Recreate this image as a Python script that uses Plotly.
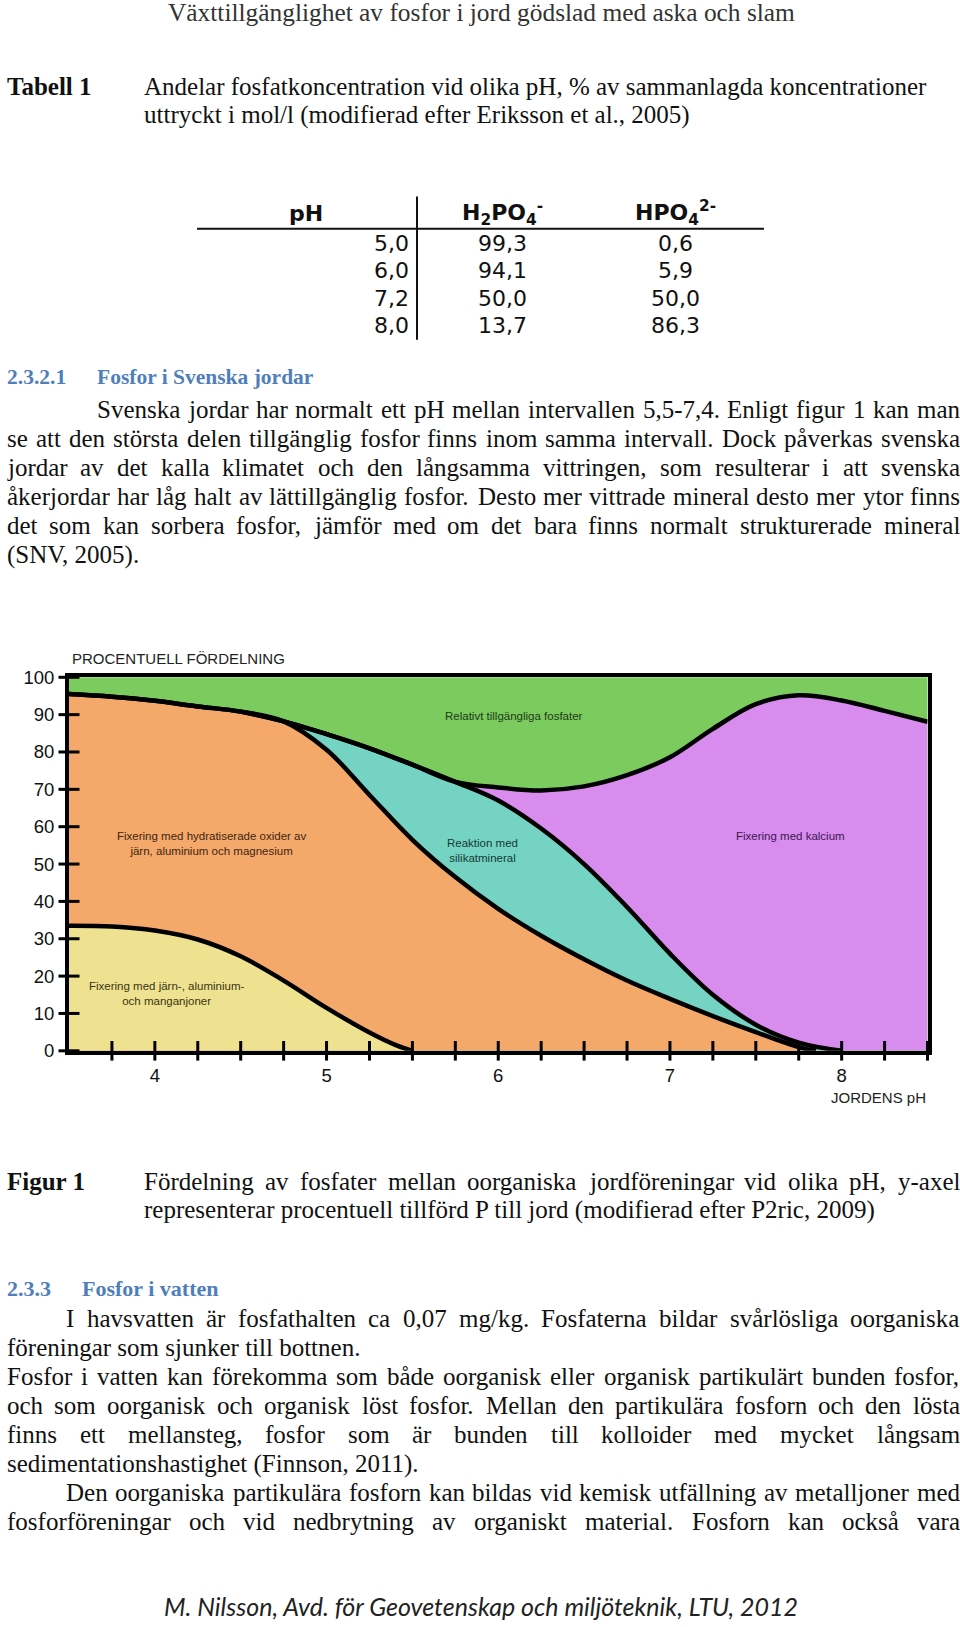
import plotly.graph_objects as go
import numpy as np

W, H = 960, 1627

# ------------------------------------------------------------------ text content
header_text = "Växttillgänglighet av fosfor i jord gödslad med aska och slam"

table_label = "Tabell 1"
table_caption = [
    "Andelar fosfatkoncentration vid olika pH, % av sammanlagda koncentrationer",
    "uttryckt i mol/l (modifierad efter Eriksson et al., 2005)",
]
table_headers = ["pH", "H<sub>2</sub>PO<sub>4</sub><sup>-</sup>", "HPO<sub>4</sub><sup>2-</sup>"]
table_ph = [5.0, 6.0, 7.2, 8.0]
table_h2po4 = [99.3, 94.1, 50.0, 13.7]
table_hpo4 = [0.6, 5.9, 50.0, 86.3]

section1_number = "2.3.2.1"
section1_title = "Fosfor i Svenska jordar"
para1_lines = [
    "Svenska jordar har normalt ett pH mellan intervallen 5,5-7,4. Enligt figur 1 kan man",
    "se att den största delen tillgänglig fosfor finns inom samma intervall. Dock påverkas svenska",
    "jordar av det kalla klimatet och den långsamma vittringen, som resulterar i att svenska",
    "åkerjordar har låg halt av lättillgänglig fosfor. Desto mer vittrade mineral desto mer ytor finns",
    "det som kan sorbera fosfor, jämför med om det bara finns normalt strukturerade mineral",
    "(SNV, 2005).",
]

chart_title = "PROCENTUELL FÖRDELNING"
x_title = "JORDENS pH"
x_ticks = [4, 5, 6, 7, 8]
y_ticks = [0, 10, 20, 30, 40, 50, 60, 70, 80, 90, 100]

# boundaries between the coloured zones (pH, cumulative %)
ph_yellow = [3.5, 3.75, 4.0, 4.25, 4.5, 4.75, 5.0, 5.25, 5.4, 5.5]
pct_yellow = [33.5, 33.3, 32.2, 29.8, 25.3, 18.8, 11.5, 4.9, 1.6, 0.0]

ph_orange = [3.5, 3.75, 4.0, 4.25, 4.5, 4.75, 5.0, 5.25, 5.5, 5.75, 6.0, 6.25,
             6.5, 6.75, 7.0, 7.25, 7.5, 7.75, 7.85]
pct_orange = [95.5, 94.8, 93.7, 92.2, 90.8, 88.2, 80.6, 68.5, 56.5, 46.5, 38.0, 30.8,
              24.5, 18.8, 13.9, 9.3, 5.0, 1.0, 0.0]

ph_teal = [4.5, 4.75, 5.0, 5.25, 5.5, 5.75, 6.0, 6.25, 6.5, 6.75, 7.0, 7.25, 7.5, 7.75, 8.0]
pct_teal = [90.8, 88.2, 84.8, 81.0, 76.6, 72.0, 67.0, 59.5, 50.0, 38.5, 26.0, 15.0, 7.0, 2.2, 0.0]

ph_green = [3.5, 3.75, 4.0, 4.25, 4.5, 4.75, 5.0, 5.25, 5.5, 5.75, 6.0, 6.25, 6.5,
            6.75, 7.0, 7.25, 7.5, 7.75, 8.0, 8.25, 8.5]
pct_green = [95.5, 94.8, 93.7, 92.2, 90.8, 88.2, 84.8, 81.0, 76.6, 72.0, 70.5, 69.7, 70.8,
             73.8, 78.6, 86.2, 92.8, 95.2, 93.8, 91.0, 88.1]

zone_labels = [
    "Relativt tillgängliga fosfater",
    "Fixering med hydratiserade oxider av<br>järn, aluminium och magnesium",
    "Reaktion med<br>silikatmineral",
    "Fixering med kalcium",
    "Fixering med järn-, aluminium-<br>och manganjoner",
]

figure_label = "Figur 1"
figure_caption = [
    "Fördelning av fosfater mellan oorganiska jordföreningar vid olika pH, y-axel",
    "representerar procentuell tillförd P till jord (modifierad efter P2ric, 2009)",
]

section2_number = "2.3.3"
section2_title = "Fosfor i vatten"
para2_lines = [
    "I havsvatten är fosfathalten ca 0,07 mg/kg. Fosfaterna bildar svårlösliga oorganiska",
    "föreningar som sjunker till bottnen.",
    "Fosfor i vatten kan förekomma som både oorganisk eller organisk partikulärt bunden fosfor,",
    "och som oorganisk och organisk löst fosfor. Mellan den partikulära fosforn och den lösta",
    "finns ett mellansteg, fosfor som är bunden till kolloider med mycket långsam",
    "sedimentationshastighet (Finnson, 2011).",
    "Den oorganiska partikulära fosforn kan bildas vid kemisk utfällning av metalljoner med",
    "fosforföreningar och vid nedbrytning av organiskt material. Fosforn kan också vara",
]

footer_text = "M. Nilsson, Avd. för Geovetenskap och miljöteknik, LTU, 2012"

# ------------------------------------------------------------------ styles
GREEN = "#7bcb5f"
PURPLE = "#d88cee"
TEAL = "#75d3c3"
ORANGE = "#f4a869"
YELLOW = "#eee291"
BLUE = "#4f7fba"
SERIF = "Liberation Serif"
SANS = "Liberation Sans"
BS = 25  # body font size
LINE = 29.4  # body line pitch

# Times-compatible advance widths (1/1000 em) for justification
TIMES = {' ': 250, '!': 333, '(': 333, ')': 333, ',': 250, '-': 333, '.': 250, '/': 278,
         ':': 278, ';': 278, '%': 833, '?': 444}
for d in "0123456789":
    TIMES[d] = 500
TIMES.update(dict(zip("ABCDEFGHIJKLMNOPQRSTUVWXYZ",
                      [722, 667, 667, 722, 611, 556, 722, 722, 333, 389, 722, 611, 889,
                       722, 722, 556, 722, 667, 556, 611, 722, 722, 944, 722, 722, 611])))
TIMES.update(dict(zip("abcdefghijklmnopqrstuvwxyz",
                      [444, 500, 444, 500, 444, 333, 500, 500, 278, 278, 500, 278, 778,
                       500, 500, 500, 500, 333, 389, 278, 500, 500, 722, 500, 500, 444])))
TIMES.update({'å': 444, 'ä': 444, 'ö': 500, 'é': 444, 'Å': 722, 'Ä': 722, 'Ö': 722})


def tw(s, size):
    return sum(TIMES.get(c, 500) for c in s) * size / 1000.0


def px(x):
    return x / W


def py(y):
    return 1 - y / H


annotations = []
shapes = []


def add_text(text, x, y, size, family=SERIF, color="#111111", xanchor="left", align="left"):
    annotations.append(dict(text=text, x=px(x), y=py(y), xref="paper", yref="paper",
                            xanchor=xanchor, yanchor="middle", align=align, showarrow=False,
                            font=dict(size=size, family=family, color=color)))


def add_line(text, x0, y, size, x1=None, color="#111111"):
    words = text.split(" ")
    if x1 is None or len(words) < 2:
        add_text(text, x0, y, size, color=color)
        return
    widths = [tw(w, size) for w in words]
    gap = (x1 - x0 - sum(widths)) / (len(words) - 1)
    x = x0
    for w, wd in zip(words, widths):
        add_text(w, x, y, size, color=color)
        x += wd + gap


LEFT, RIGHT = 5, 958

# header
add_text(header_text, 481, 1.5, 25.4, color="#333333", xanchor="center")

# table caption
add_text("<b>" + table_label + "</b>", LEFT, 76.5, BS)
add_line(table_caption[0], 142, 76.5, BS)
add_line(table_caption[1], 142, 105, BS)

# table
TFONT = "DejaVu Sans"
TS = 22
col_x = [306, 502, 675]
for hdr, cx in zip(table_headers, col_x):
    add_text("<b>" + hdr + "</b>", cx, 205, TS, family=TFONT, xanchor="center")
row_y = [235.6, 263.0, 291.4, 318.7]


def fmt(v):
    return f"{v:.1f}".replace(".", ",")


for i in range(len(table_ph)):
    add_text(fmt(table_ph[i]), 411, row_y[i], TS, family=TFONT, xanchor="right")
    add_text(fmt(table_h2po4[i]), col_x[1], row_y[i], TS, family=TFONT, xanchor="center")
    add_text(fmt(table_hpo4[i]), col_x[2], row_y[i], TS, family=TFONT, xanchor="center")

shapes.append(dict(type="line", xref="paper", yref="paper", x0=px(197), x1=px(764),
                   y0=py(220.5), y1=py(220.5), line=dict(color="#111111", width=2)))
shapes.append(dict(type="line", xref="paper", yref="paper", x0=px(417), x1=px(417),
                   y0=py(188), y1=py(333), line=dict(color="#111111", width=2)))

# section 2.3.2.1
add_text("<b>" + section1_number + "</b>", LEFT, 370.4, 21.5, color=BLUE)
add_text("<b>" + section1_title + "</b>", 95, 370.4, 21.5, color=BLUE)

p1_y0 = 403.8
for i, line in enumerate(para1_lines):
    x0 = 95 if i == 0 else LEFT
    x1 = RIGHT if i < len(para1_lines) - 1 else None
    add_line(line, x0, p1_y0 + LINE * i, BS, x1)

# chart texts
add_text(chart_title, 70, 656, 15, family=SANS, color="#222222")
add_text(x_title, 928, 1100.7, 15, family=SANS, color="#222222", xanchor="right")
zone_pos = [(514, 713.8, "#1f3a16"), (211, 843.5, "#3d2614"), (482, 850.6, "#173a34"),
            (790, 835.3, "#3b1850"), (166, 995.4, "#3a3512")]
for lab, (x, y, c) in zip(zone_labels, zone_pos):
    add_text(lab, x, y, 11.5, family=SANS, color=c, xanchor="center", align="center")

# figure caption
add_text("<b>" + figure_label + "</b>", LEFT, 1185.8, BS)
add_line(figure_caption[0], 142, 1185.8, BS, RIGHT)
add_line(figure_caption[1], 142, 1214.2, BS)

# section 2.3.3
add_text("<b>" + section2_number + "</b>", LEFT, 1294.5, 22, color=BLUE)
add_text("<b>" + section2_title + "</b>", 80, 1294.5, 22, color=BLUE)

p2_y0 = 1324.8
p2_last = {1, 5}
for i, line in enumerate(para2_lines):
    x0 = 64 if i in (0, 6) else LEFT
    x1 = None if i in p2_last else RIGHT
    add_line(line, x0, p2_y0 + LINE * i, BS, x1)

# footer
add_text("<i>" + footer_text + "</i>", 481, 1616, 25, family="Lato", color="#222222",
         xanchor="center")

# ------------------------------------------------------------------ chart
fig = go.Figure()

fills = [(ph_green, pct_green, PURPLE), (ph_teal, pct_teal, TEAL),
         (ph_orange, pct_orange, ORANGE), (ph_yellow, pct_yellow, YELLOW)]
for xs, ys, col in fills:
    fig.add_trace(go.Scatter(x=xs, y=ys, mode="lines", fill="tozeroy", fillcolor=col,
                             line=dict(width=0, shape="spline", smoothing=1.0),
                             hoverinfo="skip", showlegend=False))
for xs, ys, col in fills:
    fig.add_trace(go.Scatter(x=xs, y=ys, mode="lines",
                             line=dict(width=4.5, color="black", shape="spline", smoothing=1.0),
                             hoverinfo="skip", showlegend=False))

minor_x = list(np.arange(3.75, 8.51, 0.25))
fig.add_trace(go.Scatter(x=minor_x, y=[0] * len(minor_x), mode="markers", cliponaxis=False,
                         marker=dict(symbol="line-ns", size=14, line=dict(width=3, color="black")),
                         hoverinfo="skip", showlegend=False))
fig.add_trace(go.Scatter(x=[3.5] * len(y_ticks), y=y_ticks, mode="markers", cliponaxis=False,
                         marker=dict(symbol="line-ew", size=15, line=dict(width=3, color="black")),
                         hoverinfo="skip", showlegend=False))

fig.update_layout(
    width=W, height=H, autosize=False,
    margin=dict(l=0, r=0, t=0, b=0),
    paper_bgcolor="white", plot_bgcolor=GREEN,
    showlegend=False,
    annotations=annotations, shapes=shapes,
    xaxis=dict(domain=[px(69), px(927.5)], range=[3.5, 8.5], showgrid=False, zeroline=False,
               showline=True, mirror=True, linecolor="black", linewidth=4,
               tickvals=x_ticks, ticks="", ticklabelstandoff=5,
               tickfont=dict(size=18.5, family=SANS, color="#111111"), fixedrange=True),
    yaxis=dict(domain=[py(1053.4), py(675.0)], range=[0, 100], showgrid=False, zeroline=False,
               showline=True, mirror=True, linecolor="black", linewidth=4,
               tickvals=y_ticks, ticks="", ticklabelstandoff=7,
               tickfont=dict(size=18.5, family=SANS, color="#111111"), fixedrange=True),
)

fig.write_html(
    "out.html",
    config={"displayModeBar": False},
    post_script=("document.documentElement.style.overflow='hidden';"
                 "document.body.style.margin='0';document.body.style.overflow='hidden';"),
)
